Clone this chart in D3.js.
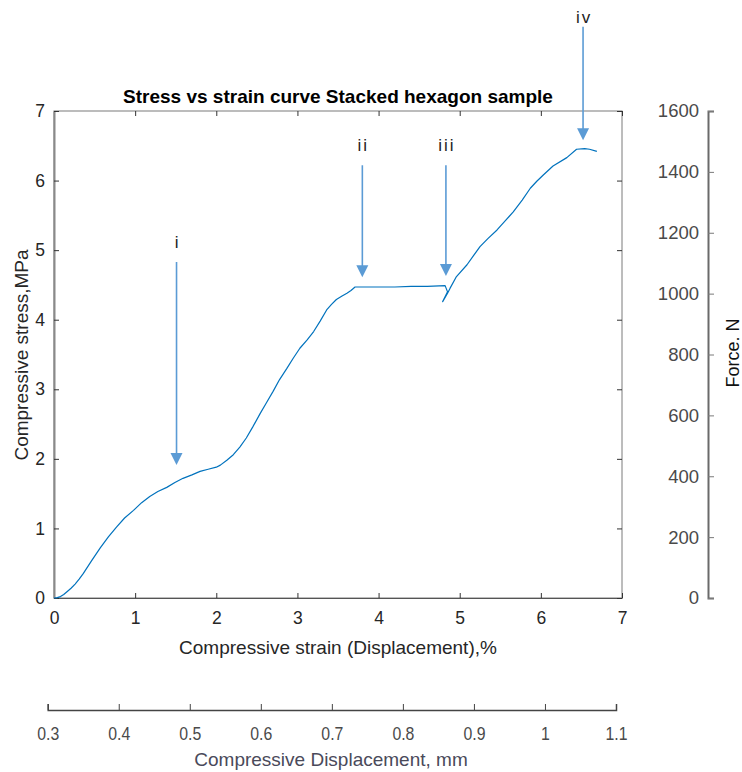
<!DOCTYPE html>
<html>
<head>
<meta charset="utf-8">
<script src="https://cdn.jsdelivr.net/npm/d3@7"></script>
<style>
  html, body { margin: 0; padding: 0; background: #fff; }
  svg { display: block; font-family: "Liberation Sans", Arial, sans-serif; }
</style>
</head>
<body>
<svg id="chart" width="742" height="772"></svg>
<script>
// Strain (%) and stress (MPa) samples of the stacked hexagon compression test
const strain = [0, 0.04, 0.08, 0.12, 0.16, 0.21, 0.26, 0.31, 0.36, 0.46, 0.57, 0.67, 0.77, 0.87, 0.98, 1.08, 1.18, 1.28, 1.39, 1.49, 1.59, 1.70, 1.80, 1.90, 2.00, 2.05, 2.13, 2.21, 2.29, 2.37, 2.45, 2.54, 2.62, 2.70, 2.78, 2.87, 2.95, 3.03, 3.12, 3.20, 3.28, 3.36, 3.42, 3.48, 3.55, 3.61, 3.66, 3.71, 3.85, 4.02, 4.20, 4.40, 4.60, 4.82, 4.85, 4.79, 4.85, 4.88, 4.96, 5.09, 5.17, 5.25, 5.35, 5.46, 5.56, 5.66, 5.77, 5.87, 5.95, 6.03, 6.15, 6.32, 6.44, 6.54, 6.60, 6.69];
const stress = [0, 0.005, 0.02, 0.05, 0.09, 0.14, 0.20, 0.27, 0.35, 0.53, 0.72, 0.88, 1.02, 1.15, 1.26, 1.37, 1.46, 1.53, 1.59, 1.66, 1.72, 1.77, 1.82, 1.85, 1.88, 1.91, 1.98, 2.06, 2.17, 2.30, 2.46, 2.65, 2.81, 2.97, 3.14, 3.30, 3.45, 3.59, 3.71, 3.83, 3.98, 4.14, 4.22, 4.29, 4.34, 4.38, 4.42, 4.47, 4.47, 4.47, 4.47, 4.48, 4.48, 4.49, 4.40, 4.26, 4.38, 4.45, 4.62, 4.79, 4.92, 5.05, 5.17, 5.29, 5.42, 5.55, 5.72, 5.89, 5.99, 6.08, 6.21, 6.33, 6.45, 6.46, 6.45, 6.42];

// Annotated stages: label, strain, arrow tail / tip and label height (MPa)
const stageLabels = ["i", "ii", "iii", "iv"];
const stageStrain = [1.51, 3.80, 4.83, 6.52];
const stageTail = [4.83, 6.22, 6.22, 8.21];
const stageTip = [1.91, 4.61, 4.63, 6.58];
const stageLabelY = [5.12, 6.51, 6.51, 8.35];

// Axis ticks
const strainTicks = [0, 1, 2, 3, 4, 5, 6, 7];
const stressTicks = [0, 1, 2, 3, 4, 5, 6, 7];
const forceTicks = [0, 200, 400, 600, 800, 1000, 1200, 1400, 1600];
const dispTicks = [0.3, 0.4, 0.5, 0.6, 0.7, 0.8, 0.9, 1.0, 1.1];

const svg = d3.select("#chart");
const L = 54, R = 622, T = 111, B = 598;

const x = d3.scaleLinear().domain([0, 7]).range([L, R]);
const y = d3.scaleLinear().domain([0, 7]).range([B, T]);
const yForce = d3.scaleLinear().domain([0, 1600]).range([B, T]);
const xDisp = d3.scaleLinear().domain([0.3, 1.1]).range([47.7, 616]);

function styleAxis(g, lineColor, textColor, size) {
  g.selectAll(".domain").attr("stroke", lineColor);
  g.selectAll(".tick line").attr("stroke", lineColor);
  g.selectAll(".tick text").attr("fill", textColor)
    .style("font-size", size + "px")
    .style("font-family", '"Liberation Sans", Arial, sans-serif');
}

// Main box
svg.append("rect").attr("x", L).attr("y", T).attr("width", R - L).attr("height", B - T)
  .attr("fill", "none").attr("stroke", "#7a7a7a").attr("stroke-width", 1);

// Bottom strain axis
const gx = svg.append("g").attr("transform", `translate(0,${B})`)
  .call(d3.axisBottom(x).tickValues(strainTicks).tickFormat(d3.format("d"))
    .tickSizeInner(-5).tickSizeOuter(0).tickPadding(14));
styleAxis(gx, "#333", "#262626", 17.5);
gx.select(".domain").attr("stroke", "#555");

// Top mirrored ticks
const gxt = svg.append("g").attr("transform", `translate(0,${T})`)
  .call(d3.axisTop(x).tickValues(strainTicks).tickFormat("").tickSizeInner(-5).tickSizeOuter(0));
styleAxis(gxt, "#333", "#262626", 16);
gxt.select(".domain").remove();

// Left stress axis
const gy = svg.append("g").attr("transform", `translate(${L},0)`)
  .call(d3.axisLeft(y).tickValues(stressTicks).tickFormat(d3.format("d"))
    .tickSizeInner(-5).tickSizeOuter(0).tickPadding(9));
styleAxis(gy, "#333", "#262626", 17.5);
gy.select(".domain").attr("stroke", "#8a8a8a").attr("stroke-width", 2);

// Right mirrored ticks
const gyr = svg.append("g").attr("transform", `translate(${R},0)`)
  .call(d3.axisRight(y).tickValues(stressTicks).tickFormat("").tickSizeInner(-5).tickSizeOuter(0));
styleAxis(gyr, "#333", "#262626", 16);
gyr.select(".domain").remove();

// Force axis
const gf = svg.append("g").attr("transform", "translate(708,0)")
  .call(d3.axisLeft(yForce).tickValues(forceTicks).tickFormat(d3.format("d"))
    .tickSizeInner(-6).tickSizeOuter(-6).tickPadding(9));
styleAxis(gf, "#7a7a7a", "#4a4a4a", 18.5);
gf.select(".domain").attr("stroke", "#6a6a6a").attr("stroke-width", 2);

// Displacement axis
const gd = svg.append("g").attr("transform", "translate(0,710)")
  .call(d3.axisBottom(xDisp).tickValues(dispTicks).tickFormat(d => d3.format("")(+d.toFixed(1)))
    .tickSizeInner(-6).tickSizeOuter(-6).tickPadding(17));
styleAxis(gd, "#444", "#4a4a4a", 18);
gd.select(".domain").attr("stroke", "#444").attr("stroke-width", 1.5);
gd.selectAll(".tick text").attr("transform", "scale(0.88,1)");

// Titles
svg.append("text").attr("x", 338).attr("y", 103).attr("text-anchor", "middle")
  .style("font-size", "19px").style("font-weight", "bold").attr("fill", "#000")
  .text("Stress vs strain curve Stacked hexagon sample");

svg.append("text").attr("x", 338).attr("y", 654).attr("text-anchor", "middle")
  .style("font-size", "19px").attr("fill", "#262626")
  .text("Compressive strain (Displacement),%");

svg.append("text").attr("transform", "translate(28,355) rotate(-90)").attr("text-anchor", "middle")
  .style("font-size", "19px").attr("fill", "#262626")
  .text("Compressive stress,MPa");

svg.append("text").attr("transform", "translate(739,353) rotate(-90)").attr("text-anchor", "middle")
  .style("font-size", "18px").attr("fill", "#111")
  .text("Force. N");

svg.append("text").attr("x", 331).attr("y", 766).attr("text-anchor", "middle")
  .style("font-size", "19px").attr("fill", "#4a4a5a")
  .text("Compressive Displacement, mm");

// Stress-strain curve
const pts = strain.map((s, i) => [s, stress[i]]);
svg.append("path").datum(pts)
  .attr("fill", "none").attr("stroke", "#0072BD").attr("stroke-width", 1.2)
  .attr("stroke-linejoin", "round")
  .attr("d", d3.line().x(d => x(d[0])).y(d => y(d[1])));

// Stage arrows
const arrowColor = "#5b9bd5";
stageLabels.forEach((lab, i) => {
  const xs = x(stageStrain[i]);
  const y0 = y(stageTail[i]);
  const y1 = y(stageTip[i]);
  const head = 12;
  svg.append("line").attr("x1", xs).attr("x2", xs).attr("y1", y0).attr("y2", y1 - head + 1)
    .attr("stroke", arrowColor).attr("stroke-width", 1.6);
  svg.append("path")
    .attr("d", `M${xs - 6},${y1 - head} L${xs + 6},${y1 - head} L${xs},${y1} Z`)
    .attr("fill", arrowColor);
  svg.append("text").attr("x", xs + 1).attr("y", y(stageLabelY[i]) + 6)
    .attr("text-anchor", "middle").style("font-size", "17px").style("letter-spacing", "2px")
    .attr("fill", "#222").text(lab);
});
</script>
</body>
</html>
